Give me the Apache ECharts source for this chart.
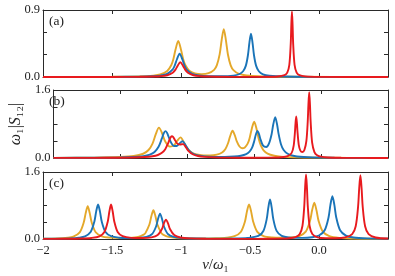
<!DOCTYPE html>
<html><head><meta charset="utf-8">
<script src="https://cdn.jsdelivr.net/npm/echarts/dist/echarts.min.js"></script>
<style>html,body{margin:0;padding:0;background:#fff}#c{width:395px;height:276px}</style>
</head><body><div id="c"></div>
<script>
// Panel (a)
const aYellow=[[-2,.001],[-1.5,.003],[-1.3,.009],[-1.2,.019],[-1.15,.034],[-1.1,.08],[-1.07,.161],[-1.055,.243],[-1.04,.365],[-1.02,.485],[-1.0,.367],[-0.985,.246],[-0.97,.164],[-0.94,.085],[-0.9,.049],[-0.85,.038],[-0.8,.051],[-0.76,.096],[-0.74,.159],[-0.72,.303],[-0.705,.50],[-0.69,.642],[-0.675,.499],[-0.66,.302],[-0.64,.157],[-0.62,.093],[-0.58,.043],[-0.5,.016],[-0.4,.0074],[-0.2,.003],[0.5,.0005]];
const aBlue=[[-2,.001],[-1.5,.002],[-1.3,.005],[-1.2,.011],[-1.15,.019],[-1.1,.042],[-1.06,.103],[-1.045,.156],[-1.03,.235],[-1.01,.312],[-0.99,.236],[-0.975,.157],[-0.96,.104],[-0.92,.042],[-0.87,.02],[-0.8,.011],[-0.7,.01],[-0.62,.019],[-0.58,.037],[-0.55,.077],[-0.53,.153],[-0.515,.292],[-0.504,.466],[-0.493,.582],[-0.482,.466],[-0.471,.292],[-0.456,.153],[-0.436,.077],[-0.406,.036],[-0.36,.017],[-0.25,.006],[0,.002],[0.5,.0005]];
const aRed=[[-2,.001],[-1.5,.001],[-1.3,.003],[-1.2,.007],[-1.15,.011],[-1.1,.024],[-1.06,.057],[-1.04,.099],[-1.025,.149],[-1.005,.198],[-0.985,.149],[-0.97,.099],[-0.95,.057],[-0.91,.024],[-0.86,.011],[-0.8,.006],[-0.6,.002],[-0.4,.0025],[-0.3,.007],[-0.25,.024],[-0.23,.058],[-0.215,.162],[-0.205,.44],[-0.2005,.704],[-0.196,.88],[-0.1915,.704],[-0.187,.44],[-0.177,.162],[-0.162,.058],[-0.142,.024],[-0.1,.008],[0,.002],[0.5,.0003]];
// Panel (b)
const bYellow=[[-2,.004],[-1.7,.009],[-1.5,.0225],[-1.4,.046],[-1.33,.1],[-1.29,.188],[-1.26,.34],[-1.235,.567],[-1.212,.715],[-1.19,.594],[-1.165,.388],[-1.13,.268],[-1.1,.297],[-1.075,.407],[-1.051,.486],[-1.025,.366],[-1.0,.225],[-0.97,.136],[-0.93,.084],[-0.88,.062],[-0.83,.06],[-0.78,.079],[-0.74,.131],[-0.715,.214],[-0.695,.352],[-0.68,.511],[-0.662,.64],[-0.645,.535],[-0.63,.389],[-0.61,.27],[-0.59,.231],[-0.57,.249],[-0.55,.331],[-0.535,.46],[-0.518,.691],[-0.5,.852],[-0.482,.676],[-0.465,.433],[-0.45,.29],[-0.43,.182],[-0.4,.104],[-0.35,.054],[-0.3,.033],[-0.2,.017],[0,.008],[0.2,.004],[0.5,.002]];
const bBlue=[[-2,.003],[-1.7,.006],[-1.5,.013],[-1.4,.025],[-1.33,.045],[-1.28,.081],[-1.245,.142],[-1.215,.263],[-1.19,.46],[-1.177,.577],[-1.164,.632],[-1.151,.589],[-1.14,.501],[-1.12,.356],[-1.1,.283],[-1.08,.281],[-1.06,.337],[-1.036,.393],[-1.015,.313],[-0.99,.188],[-0.96,.107],[-0.92,.061],[-0.87,.038],[-0.8,.027],[-0.72,.0255],[-0.65,.034],[-0.6,.052],[-0.56,.09],[-0.535,.148],[-0.515,.25],[-0.5,.395],[-0.488,.546],[-0.476,.634],[-0.464,.562],[-0.455,.459],[-0.435,.297],[-0.41,.259],[-0.39,.337],[-0.37,.56],[-0.358,.783],[-0.343,.961],[-0.328,.77],[-0.318,.572],[-0.3,.325],[-0.28,.188],[-0.25,.101],[-0.2,.048],[-0.1,.02],[0.1,.007],[0.5,.002]];
const bRed=[[-2,.002],[-1.7,.003],[-1.5,.007],[-1.4,.012],[-1.32,.022],[-1.26,.041],[-1.22,.071],[-1.19,.121],[-1.165,.208],[-1.14,.374],[-1.128,.468],[-1.116,.515],[-1.105,.493],[-1.095,.437],[-1.075,.339],[-1.055,.319],[-1.031,.327],[-1.01,.248],[-0.99,.161],[-0.96,.088],[-0.92,.047],[-0.87,.027],[-0.8,.015],[-0.7,.008],[-0.55,.006],[-0.4,.008],[-0.3,.018],[-0.25,.042],[-0.22,.12],[-0.205,.29],[-0.195,.63],[-0.192,.784],[-0.186,.978],[-0.18,.79],[-0.177,.639],[-0.167,.309],[-0.155,.174],[-0.14,.142],[-0.125,.189],[-0.11,.401],[-0.1,.852],[-0.095,1.244],[-0.089,1.549],[-0.083,1.241],[-0.078,.846],[-0.067,.361],[-0.05,.14],[-0.03,.066],[0,.031],[0.05,.013],[0.15,.005],[0.3,.002],[0.5,.001]];
// Panel (c)
const cYellow=[[-2,.008],[-1.9,.014],[-1.82,.032],[-1.78,.058],[-1.734,.158],[-1.705,.393],[-1.69,.627],[-1.676,.783],[-1.662,.627],[-1.647,.393],[-1.618,.16],[-1.574,.063],[-1.52,.033],[-1.44,.022],[-1.37,.027],[-1.31,.051],[-1.27,.106],[-1.258,.141],[-1.229,.345],[-1.2145,.549],[-1.2,.685],[-1.1855,.549],[-1.171,.345],[-1.142,.141],[-1.13,.105],[-1.09,.05],[-1.03,.024],[-0.95,.015],[-0.85,.013],[-0.75,.017],[-0.67,.031],[-0.612,.066],[-0.567,.168],[-0.537,.414],[-0.522,.66],[-0.507,.825],[-0.492,.66],[-0.477,.414],[-0.447,.17],[-0.402,.069],[-0.34,.035],[-0.27,.029],[-0.2,.038],[-0.143,.071],[-0.096,.176],[-0.065,.434],[-0.0495,.692],[-0.034,.864],[-0.0185,.69],[-0.003,.433],[0.028,.175],[0.075,.068],[0.15,.026],[0.25,.012],[0.35,.007],[0.5,.004]];
const cBlue=[[-2,.005],[-1.9,.008],[-1.8,.016],[-1.74,.032],[-1.6955,.064],[-1.655,.167],[-1.628,.413],[-1.6145,.659],[-1.601,.823],[-1.5875,.659],[-1.574,.413],[-1.547,.167],[-1.5065,.066],[-1.45,.031],[-1.38,.022],[-1.31,.026],[-1.25,.051],[-1.208,.125],[-1.18,.305],[-1.166,.485],[-1.152,.605],[-1.138,.485],[-1.124,.305],[-1.096,.125],[-1.054,.049],[-1.0,.024],[-0.9,.011],[-0.8,.009],[-0.7,.009],[-0.6,.012],[-0.52,.023],[-0.44,.073],[-0.403,.192],[-0.379,.474],[-0.367,.756],[-0.355,.944],[-0.343,.756],[-0.331,.474],[-0.307,.193],[-0.27,.075],[-0.2,.031],[-0.12,.026],[-0.05,.042],[0,.083],[0.041,.208],[0.069,.514],[0.083,.82],[0.097,1.024],[0.111,.82],[0.125,.514],[0.153,.208],[0.195,.082],[0.25,.035],[0.35,.014],[0.5,.006]];
const cRed=[[-2,.003],[-1.85,.005],[-1.72,.011],[-1.65,.024],[-1.591,.064],[-1.555,.166],[-1.531,.412],[-1.519,.658],[-1.507,.823],[-1.495,.658],[-1.483,.412],[-1.459,.167],[-1.423,.066],[-1.36,.028],[-1.28,.023],[-1.214,.04],[-1.169,.096],[-1.139,.233],[-1.124,.371],[-1.109,.463],[-1.094,.371],[-1.079,.232],[-1.049,.094],[-1.004,.037],[-0.93,.015],[-0.82,.007],[-0.65,.003],[-0.45,.004],[-0.3,.008],[-0.22,.018],[-0.17,.046],[-0.1395,.118],[-0.12,.31],[-0.107,.772],[-0.1005,1.234],[-0.094,1.542],[-0.0875,1.234],[-0.081,.772],[-0.068,.311],[-0.0485,.12],[-0.01,.041],[0.05,.02],[0.12,.019],[0.19,.039],[0.2405,.117],[0.266,.306],[0.283,.762],[0.2915,1.218],[0.3,1.522],[0.3085,1.218],[0.317,.761],[0.334,.305],[0.3595,.116],[0.41,.036],[0.5,.011]];

const xTickValues=[-2,-1.5,-1,-0.5,0];
const xTickLabels=['\u22122','\u22121.5','\u22121','\u22120.5','0.0'];
const panelLabels=['(a)','(b)','(c)'];
const yMaxes=[0.9,1.6,1.6];
const ySteps=[0.3,0.4,0.4];
const yTickLabels=[['0.0','0.9'],['0.0','1.6'],['0.0','1.6']];

const panels=[[aYellow,aBlue,aRed],[bYellow,bBlue,bRed],[cYellow,cBlue,cRed]];
const colors=['#E4A82A','#1A74B8','#E81A1E'];
const font='Liberation Serif';
const axisColor='#2a2a2a';
const grids=[{left:43,right:7,top:10,height:67},{left:43,right:7,top:90,height:68},{left:43,right:7,top:172,height:67}];

const xAxes=[],yAxes=[],series=[],graphics=[];
grids.forEach((g,i)=>{
  ['bottom','top'].forEach((pos,k)=>{
    const ax={gridIndex:i,type:'value',position:pos,min:-2,max:0.5,interval:0.5,
      axisLine:{show:true,onZero:false,lineStyle:{color:axisColor,width:1}},
      axisTick:{show:true,inside:true,length:4,lineStyle:{color:axisColor,width:1}},
      splitLine:{show:false},
      axisLabel:{show:(i===2&&k===0),fontFamily:font,fontSize:12.5,color:'#222',margin:5,
        formatter:v=>{const j=xTickValues.findIndex(t=>Math.abs(t-v)<1e-9);return j>=0?xTickLabels[j]:'';}}};
    if(i===2&&k===0){
      ax.name='{i|\u03bd}/{i|\u03c9}\u2081';ax.nameLocation='middle';ax.nameGap=17;
      ax.nameTextStyle={fontFamily:font,fontSize:15,color:'#222',rich:{i:{fontFamily:font,fontStyle:'italic',fontSize:15,color:'#222'}}};
    }
    xAxes.push(ax);
  });
  ['left','right'].forEach((pos,k)=>{
    const ax={gridIndex:i,type:'value',position:pos,min:0,max:yMaxes[i],interval:ySteps[i],
      axisLine:{show:true,onZero:false,lineStyle:{color:axisColor,width:1}},
      axisTick:{show:true,inside:true,length:4,lineStyle:{color:axisColor,width:1}},
      splitLine:{show:false},
      axisLabel:{show:k===0,fontFamily:font,fontSize:12.5,color:'#222',margin:3,
        formatter:v=>Math.abs(v)<1e-9?yTickLabels[i][0]:(Math.abs(v-yMaxes[i])<1e-9?yTickLabels[i][1]:'')}};
    if(i===1&&k===0){
      ax.name='{i|\u03c9}\u2081|{i|S}\u2081\u2082|';ax.nameLocation='middle';ax.nameGap=19;ax.nameRotate=90;
      ax.nameTextStyle={fontFamily:font,fontSize:16,color:'#222',rich:{i:{fontFamily:font,fontStyle:'italic',fontSize:16,color:'#222'}}};
    }
    yAxes.push(ax);
  });
  panels[i].forEach((d,s)=>{
    series.push({type:'line',xAxisIndex:2*i,yAxisIndex:2*i,data:d,showSymbol:false,smooth:0.3,
      lineStyle:{width:1.9,color:colors[s]},itemStyle:{color:colors[s]},clip:true,z:2+s});
  });
  graphics.push({type:'text',left:49,top:g.top+4,style:{text:panelLabels[i],fontFamily:font,fontSize:13.5,fill:'#222'}});
});

const chart=echarts.init(document.getElementById('c'),null,{renderer:'canvas'});
chart.setOption({animation:false,backgroundColor:'#fff',grid:grids,xAxis:xAxes,yAxis:yAxes,series:series,graphic:graphics});
</script></body></html>
